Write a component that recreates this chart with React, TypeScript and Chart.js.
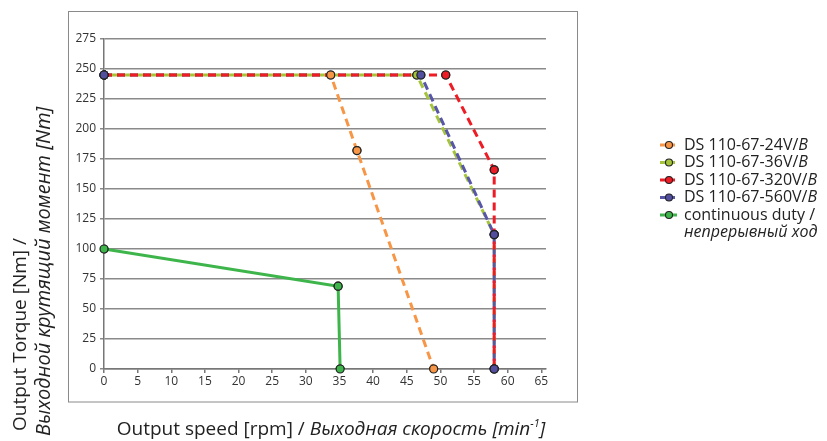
import React, { useEffect, useRef } from "react";
import { Chart, registerables } from "chart.js";

Chart.register(...registerables);

const FONT = "'Open Sans', 'Noto Sans', sans-serif";

// ---- data ----
const seriesNames = ["DS 110-67-24V/", "DS 110-67-36V/", "DS 110-67-320V/", "DS 110-67-560V/", "continuous duty /"];
const seriesItalic = ["B", "B", "B", "B", ""];
const seriesSecondLine = ["", "", "", "", "непрерывный ход"];

const speed24V = [0, 33.7, 37.6, 49.0];
const torque24V = [245, 245, 182, 0];
const speed36V = [0, 46.5, 58, 58];
const torque36V = [245, 245, 112, 0];
const speed320V = [0, 50.8, 58, 58];
const torque320V = [245, 245, 166, 0];
const speed560V = [0, 47.1, 58, 58];
const torque560V = [245, 245, 112, 0];
const speedCont = [0, 34.8, 35.1];
const torqueCont = [100, 69, 0];

const xTitleNormal = "Output speed [rpm] / ";
const xTitleItalic = "Выходная скорость [min";
const xTitleSup = "-1";
const xTitleEnd = "]";
const yTitleLine1 = "Output Torque [Nm] /";
const yTitleLine2 = "Выходной крутящий момент [Nm]";

const colors = ["#F79646", "#A4C43C", "#EE1C25", "#5756A8", "#3DB54A"];
const pointFills = ["#F79646", "#A4C43C", "#EE1C25", "#52509E", "#3DB54A"];

const toPts = (xs: number[], ys: number[]) => xs.map((x, i) => ({ x, y: ys[i] }));

export default function App() {
  const ref = useRef<HTMLCanvasElement | null>(null);

  useEffect(() => {
    document.body.style.margin = "0";
    const canvas = ref.current;
    if (!canvas) return;

    const speeds = [speed24V, speed36V, speed320V, speed560V, speedCont];
    const torques = [torque24V, torque36V, torque320V, torque560V, torqueCont];
    const orders = [3, 2, 0, 1, 4];

    const datasets = speeds.map((s, i) => ({
      label: seriesNames[i] + seriesItalic[i],
      data: toPts(s, torques[i]),
      showLine: true,
      borderColor: colors[i],
      backgroundColor: pointFills[i],
      borderWidth: 3,
      borderDash: i < 4 ? [8, 5] : [],
      borderDashOffset: i === 1 ? 6 : 0,
      pointBackgroundColor: pointFills[i],
      pointBorderColor: "#222",
      pointBorderWidth: 1.2,
      pointRadius: 4,
      order: orders[i],
    }));

    const decor = {
      id: "decor",
      beforeDraw(chart: any) {
        const ctx = chart.ctx;
        ctx.save();
        ctx.fillStyle = "#fff";
        ctx.fillRect(0, 0, chart.width, chart.height);
        ctx.strokeStyle = "#8a8a8a";
        ctx.lineWidth = 1;
        ctx.strokeRect(68.5, 11.5, 509, 390.5);
        ctx.restore();
      },
      afterDatasetsDraw(chart: any) {
        const ctx = chart.ctx;
        [0, 1, 2, 3, 4].forEach((i) => {
          const meta = chart.getDatasetMeta(i);
          meta.data.forEach((pt: any) => pt.draw(ctx, chart.chartArea));
        });
      },
      afterDraw(chart: any) {
        const ctx = chart.ctx;
        ctx.save();
        // legend
        const lx = 660, ly = 145, step = 17.5;
        let row = 0;
        chart.data.datasets.forEach((ds: any, i: number) => {
          const y = ly + row * step;
          ctx.strokeStyle = ds.borderColor;
          ctx.lineWidth = 3;
          ctx.setLineDash(ds.borderDash.length ? [6, 3] : []);
          ctx.beginPath();
          ctx.moveTo(lx, y);
          ctx.lineTo(lx + 17, y);
          ctx.stroke();
          ctx.setLineDash([]);
          ctx.beginPath();
          ctx.arc(lx + 9, y, 3.5, 0, Math.PI * 2);
          ctx.fillStyle = ds.pointBackgroundColor;
          ctx.fill();
          ctx.lineWidth = 1.1;
          ctx.strokeStyle = "#222";
          ctx.stroke();
          ctx.fillStyle = "#222";
          ctx.textBaseline = "middle";
          ctx.textAlign = "left";
          ctx.font = `16px ${FONT}`;
          ctx.fillText(seriesNames[i], lx + 24, y);
          const w = ctx.measureText(seriesNames[i]).width;
          ctx.font = `italic 16px ${FONT}`;
          ctx.fillText(seriesItalic[i], lx + 24 + w, y);
          row++;
          if (seriesSecondLine[i]) {
            ctx.fillText(seriesSecondLine[i], lx + 24, ly + row * step);
            row++;
          }
        });

        // x title
        ctx.fillStyle = "#222";
        ctx.textBaseline = "alphabetic";
        ctx.textAlign = "left";
        const fN = `19px ${FONT}`;
        const fI = `italic 19px ${FONT}`;
        const fS = `italic 11px ${FONT}`;
        ctx.font = fN;
        const w1 = ctx.measureText(xTitleNormal).width;
        ctx.font = fI;
        const w2 = ctx.measureText(xTitleItalic).width;
        const w4 = ctx.measureText(xTitleEnd).width;
        ctx.font = fS;
        const w3 = ctx.measureText(xTitleSup).width;
        const total = w1 + w2 + w3 + w4;
        let x0 = 331 - total / 2;
        const by = 435;
        ctx.font = fN;
        ctx.fillText(xTitleNormal, x0, by);
        x0 += w1;
        ctx.font = fI;
        ctx.fillText(xTitleItalic, x0, by);
        x0 += w2;
        ctx.font = fS;
        ctx.fillText(xTitleSup, x0, by - 8);
        x0 += w3;
        ctx.font = fI;
        ctx.fillText(xTitleEnd, x0, by);

        // y title
        ctx.save();
        ctx.translate(26, 431);
        ctx.rotate(-Math.PI / 2);
        ctx.font = fN;
        ctx.fillText(yTitleLine1, 0, 0);
        ctx.restore();
        ctx.save();
        ctx.translate(50, 436);
        ctx.rotate(-Math.PI / 2);
        ctx.font = `italic 20px ${FONT}`;
        ctx.fillText(yTitleLine2, 0, 0);
        ctx.restore();

        ctx.restore();
      },
    };

    const chart = new Chart(canvas, {
      type: "scatter",
      data: { datasets },
      options: {
        animation: false,
        responsive: false,
        devicePixelRatio: 1,
        layout: { padding: { left: 0, top: 39, right: 281, bottom: 0 } },
        plugins: { legend: { display: false }, tooltip: { enabled: false }, title: { display: false } },
        scales: {
          x: {
            type: "linear",
            min: 0,
            max: 65.7,
            afterFit: (s: any) => { s.height = 72; },
            ticks: { stepSize: 5, includeBounds: false, maxRotation: 0, font: { family: FONT, size: 12 }, color: "#333", padding: 1 },
            grid: { drawOnChartArea: false, drawTicks: true, tickLength: 4, color: "#777", lineWidth: 1.5 },
            border: { color: "#777", width: 1.5 },
          },
          y: {
            min: 0,
            max: 275,
            afterFit: (s: any) => { s.width = 104; },
            ticks: { stepSize: 25, font: { family: FONT, size: 12 }, color: "#333", padding: 4 },
            grid: { color: "#8a8a8a", lineWidth: 1.5, drawTicks: true, tickLength: 4 },
            border: { color: "#777", width: 1.5 },
          },
        },
      },
      plugins: [decor],
    } as any);

    return () => chart.destroy();
  }, []);

  return <canvas ref={ref} width={827} height={441} style={{ display: "block" }} />;
}
